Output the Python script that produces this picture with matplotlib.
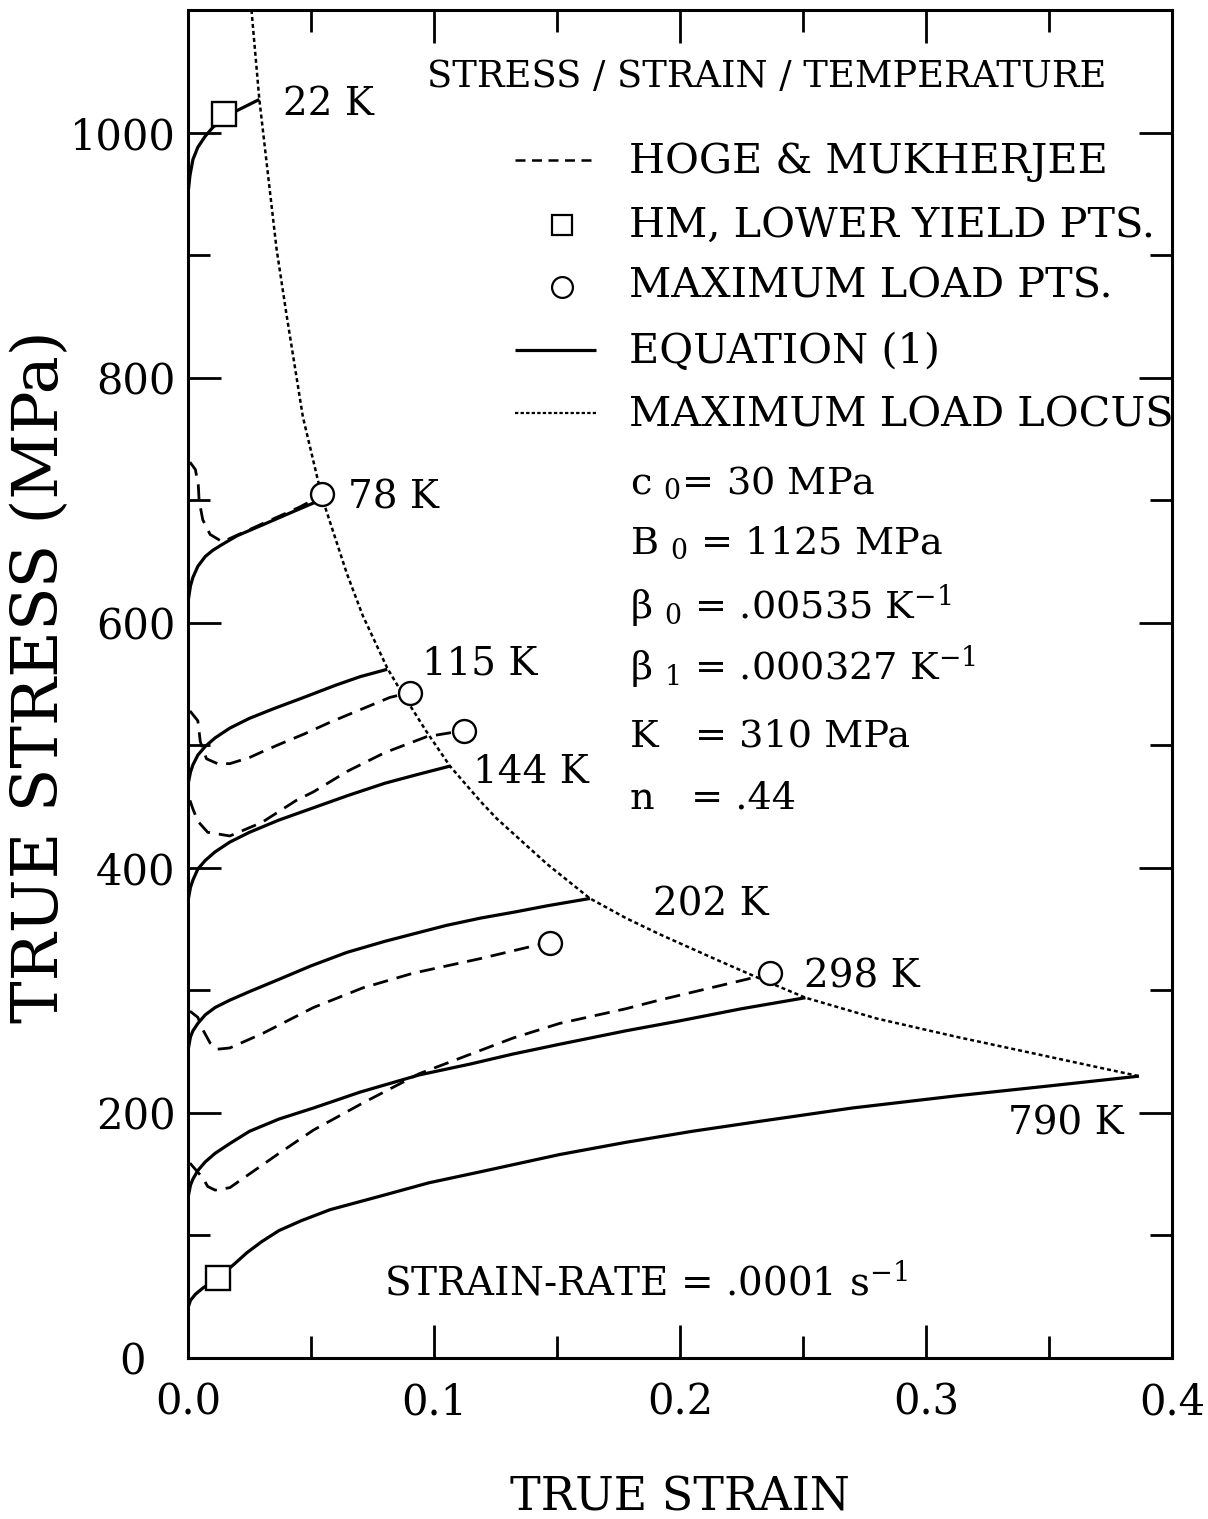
import matplotlib
matplotlib.use('Agg')
import matplotlib.pyplot as plt
from matplotlib.ticker import MultipleLocator, FuncFormatter

plt.rcParams['font.family'] = ['DejaVu Serif']
plt.rcParams['mathtext.fontset'] = 'dejavuserif'

# ---------------- data (true strain, true stress MPa) ----------------
# Equation (1) curves
eq22_eps = [0.0, 0.0008, 0.002, 0.004, 0.007, 0.010, 0.0146, 0.020, 0.025, 0.029]
eq22_sig = [950, 965, 978, 988, 997, 1004, 1012, 1018, 1023, 1027]

eq78_eps = [0.0, 0.001, 0.002, 0.004, 0.007, 0.010, 0.014, 0.020, 0.0305, 0.042, 0.0537]
eq78_sig = [617, 630, 637, 646, 654, 659, 664, 671, 680, 690, 700]

eq115_eps = [0.0, 0.001, 0.002, 0.004, 0.007, 0.011, 0.017, 0.025, 0.035, 0.047, 0.060, 0.070, 0.081]
eq115_sig = [468, 478, 484, 492, 499, 506, 514, 522, 530, 539, 549, 556, 562]

eq144_eps = [0.0, 0.001, 0.002, 0.004, 0.007, 0.011, 0.017, 0.025, 0.037, 0.051, 0.065, 0.080, 0.093, 0.1065]
eq144_sig = [373, 384, 390, 399, 406, 413, 421, 429, 439, 449, 459, 469, 476, 483]

eq202_eps = [0.0, 0.001, 0.002, 0.004, 0.007, 0.011, 0.017, 0.025, 0.037, 0.050, 0.0646, 0.080,
             0.0915, 0.105, 0.119, 0.133, 0.146, 0.1634]
eq202_sig = [251, 262, 267, 273, 280, 286, 292, 299, 309, 320, 331, 340, 346, 353, 359, 364, 369, 375]

eq298_eps = [0.0, 0.001, 0.002, 0.004, 0.007, 0.011, 0.017, 0.025, 0.037, 0.051, 0.070, 0.094,
             0.115, 0.132, 0.151, 0.178, 0.1996, 0.225, 0.251]
eq298_sig = [131, 141, 146, 153, 160, 167, 175, 185, 195, 204, 217, 231, 240, 248, 256, 267, 275, 285, 294]

eq790_eps = [0.0, 0.001, 0.003, 0.006, 0.009, 0.012, 0.015, 0.019, 0.024, 0.030, 0.037, 0.046,
             0.0577, 0.078, 0.098, 0.119, 0.151, 0.178, 0.205, 0.232, 0.270, 0.3126, 0.350, 0.3866]
eq790_sig = [41, 47, 52, 57, 61, 65, 70, 77, 86, 95, 104, 112,
             121, 132, 143, 152, 166, 176, 185, 193, 204, 214, 222, 230]

# Hoge & Mukherjee experimental curves
hm78_eps = [0.0008, 0.003, 0.0042, 0.0045, 0.006, 0.009, 0.014, 0.0305, 0.045, 0.0545]
hm78_sig = [731, 725, 712, 700, 684, 672, 666, 681, 694, 704]

hm115_eps = [0.0008, 0.004, 0.005, 0.0075, 0.012, 0.017, 0.025, 0.0305, 0.0374, 0.047, 0.058, 0.070, 0.082, 0.090]
hm115_sig = [528, 520, 503, 489, 485, 485, 490, 495, 501, 509, 519, 529, 539, 543]

hm144_eps = [0.0008, 0.002, 0.004, 0.008, 0.017, 0.030, 0.044, 0.051, 0.065, 0.080, 0.097, 0.112]
hm144_sig = [455, 448, 438, 429, 426, 437, 455, 462, 479, 494, 507, 512]

hm202_eps = [0.0008, 0.004, 0.006, 0.009, 0.012, 0.017, 0.0305, 0.051, 0.071, 0.0915, 0.119, 0.142, 0.147]
hm202_sig = [283, 278, 268, 257, 252, 253, 265, 286, 302, 314, 326, 337, 339]

hm298_eps = [0.0008, 0.006, 0.008, 0.011, 0.017, 0.037, 0.051, 0.071, 0.094, 0.132, 0.151, 0.178, 0.1915, 0.227, 0.2366]
hm298_sig = [159, 147, 140, 137, 139, 167, 186, 208, 232, 261, 273, 285, 292, 309, 314]

# Maximum load locus
locus_eps = [0.0258, 0.029, 0.036, 0.040, 0.0467, 0.0545, 0.0646, 0.071, 0.081, 0.086, 0.097, 0.1065,
             0.119, 0.1256, 0.146, 0.1634, 0.178, 0.1915, 0.216, 0.232, 0.251, 0.280, 0.3126,
             0.345, 0.3866]
locus_sig = [1100, 1027, 905, 852, 768, 702, 640, 606, 563, 546, 511, 483,
             454, 440, 403, 375, 359, 346, 324, 310, 294, 277, 262,
             248, 230]

# Lower yield points (squares) and maximum load points (circles)
lyp_eps = [0.0146, 0.0122]
lyp_sig = [1015, 65]
mlp_eps = [0.0545, 0.0902, 0.112, 0.147, 0.2366]
mlp_sig = [705, 543, 512, 339, 314]

# temperature labels (text, strain, stress baseline)
temp_labels = ["22 K", "78 K", "115 K", "144 K", "202 K", "298 K", "790 K"]
temp_x = [0.0386, 0.065, 0.0951, 0.1159, 0.189, 0.2504, 0.3333]
temp_y = [1014, 693, 558, 469, 361, 302, 182]

x_ticks = [0.0, 0.1, 0.2, 0.3, 0.4]
y_ticks = [0, 200, 400, 600, 800, 1000]

legend_labels = ["HOGE & MUKHERJEE", "HM, LOWER YIELD PTS.", "MAXIMUM LOAD PTS.",
                 "EQUATION (1)", "MAXIMUM LOAD LOCUS"]
params = [r"c $_0$= 30 MPa", r"B $_0$ = 1125 MPa", r"β $_0$ = .00535 K$^{-1}$",
          r"β $_1$ = .000327 K$^{-1}$", r"K   = 310 MPa", r"n   = .44"]
params_y = [705, 655.5, 603, 553.7, 499, 448]

# ---------------- figure ----------------
W, H = 1208, 1519
fig = plt.figure(figsize=(W / 100, H / 100), dpi=100)
ax = fig.add_axes([188 / W, (H - 1358) / H, 984 / W, 1348 / H])
ax.set_xlim(0, 0.4)
ax.set_ylim(0, 1100)

k = 'black'
solid_kw = dict(color=k, lw=2.3, solid_capstyle='butt', solid_joinstyle='round')
dash_kw = dict(color=k, lw=2.0, linestyle=(0, (5.5, 3.2)))
dot_kw = dict(color=k, lw=1.8, linestyle=(0, (1.6, 1.2)))

for e, s in [(eq22_eps, eq22_sig), (eq78_eps, eq78_sig), (eq115_eps, eq115_sig),
             (eq144_eps, eq144_sig), (eq202_eps, eq202_sig), (eq298_eps, eq298_sig),
             (eq790_eps, eq790_sig)]:
    ax.plot(e, s, **solid_kw)

for e, s in [(hm78_eps, hm78_sig), (hm115_eps, hm115_sig), (hm144_eps, hm144_sig),
             (hm202_eps, hm202_sig), (hm298_eps, hm298_sig)]:
    ax.plot(e, s, **dash_kw)

ax.plot(locus_eps, locus_sig, **dot_kw)

ax.plot(lyp_eps, lyp_sig, linestyle='none', marker='s', ms=17, mfc='white', mec=k, mew=1.7, zorder=5)
ax.plot(mlp_eps, mlp_sig, linestyle='none', marker='o', ms=16.5, mfc='white', mec=k, mew=1.7, zorder=5)

for t, x, y in zip(temp_labels, temp_x, temp_y):
    ax.text(x, y, t, fontsize=28, va='baseline', ha='left')

ax.text(0.0972, 1037, "STRESS / STRAIN / TEMPERATURE", fontsize=26.5, va='baseline', ha='left')

# legend (drawn manually)
tA = ax.transAxes
lx0, lx1, mx, tx = 0.3323, 0.4146, 0.3801, 0.4482
rows_y = [0.8887, 0.8405, 0.7945, 0.7478, 0.7010]
rows_base = [0.8791, 0.8316, 0.7864, 0.7381, 0.6907]
ax.plot([lx0, lx1], [rows_y[0]] * 2, transform=tA, color=k, lw=1.8, linestyle=(0, (4.0, 2.6)))
ax.plot([mx], [rows_y[1]], transform=tA, marker='s', ms=14.5, mfc='white', mec=k, mew=1.6, linestyle='none')
ax.plot([mx], [rows_y[2]], transform=tA, marker='o', ms=15, mfc='white', mec=k, mew=1.6, linestyle='none')
ax.plot([lx0, lx1], [rows_y[3]] * 2, transform=tA, color=k, lw=2.3, solid_capstyle='butt')
ax.plot([lx0, lx1], [rows_y[4]] * 2, transform=tA, color=k, lw=1.6, linestyle=(0, (1.5, 1.0)))
for lab, yb in zip(legend_labels, rows_base):
    ax.text(tx, yb, lab, transform=tA, fontsize=29.8, va='baseline', ha='left')

for p, y in zip(params, params_y):
    ax.text(0.1797, y, p, fontsize=27.5, va='baseline', ha='left')

ax.text(0.0797, 51.3, r"STRAIN-RATE = .0001 s$^{-1}$", fontsize=28, va='baseline', ha='left')

# axes styling
for sp in ax.spines.values():
    sp.set_linewidth(2.2)
ax.xaxis.set_minor_locator(MultipleLocator(0.05))
ax.yaxis.set_minor_locator(MultipleLocator(100))
ax.set_xticks(x_ticks)
ax.set_yticks(y_ticks)
ax.xaxis.set_major_formatter(FuncFormatter(lambda v, p: f"{v:.1f}"))
ax.yaxis.set_major_formatter(FuncFormatter(lambda v, p: "" if v == 0 else f"{v:.0f}"))
ax.tick_params(which='both', direction='in', top=True, right=True, width=2, labelsize=30)
ax.tick_params(which='major', length=24)
ax.tick_params(which='minor', length=15.5)
ax.tick_params(axis='x', pad=17)
ax.tick_params(axis='y', pad=9)
ax.text(-0.0427, -0.003, "0", transform=tA, fontsize=30, ha='right', va='center')

ax.set_xlabel("TRUE STRAIN", fontsize=33, labelpad=37)
fig.text(58 / W, 1 - 677 / H, "TRUE STRESS (MPa)", fontsize=46, rotation=90,
         rotation_mode='anchor', ha='center', va='baseline')

fig.savefig("out.png", dpi=100)
